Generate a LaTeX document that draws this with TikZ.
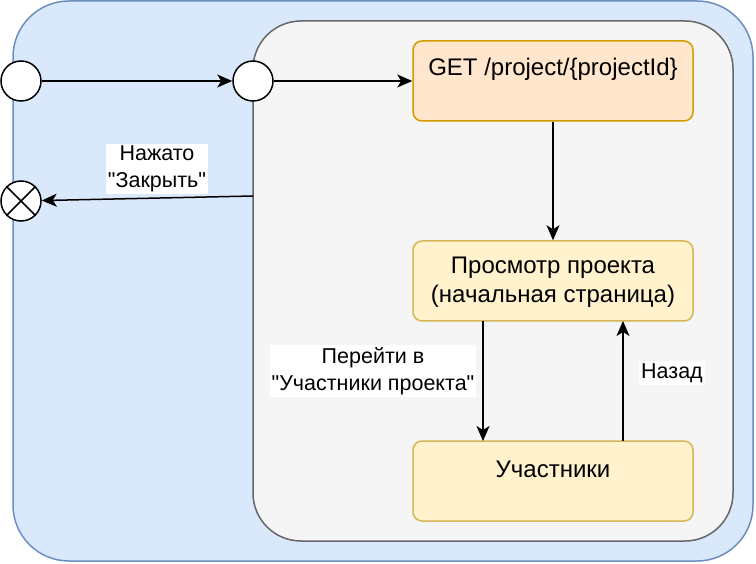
\documentclass[tikz,border=0pt]{standalone}
\usepackage{fontspec}
\setmainfont{Liberation Sans}[Ligatures=TeXOff]
\usetikzlibrary{arrows.meta}
\definecolor{outerfill}{HTML}{DAE8FC}
\definecolor{outerdraw}{HTML}{6C8EBF}
\definecolor{innerfill}{HTML}{F5F5F5}
\definecolor{innerdraw}{HTML}{666666}
\definecolor{getfill}{HTML}{FFE6CC}
\definecolor{getdraw}{HTML}{D79B00}
\definecolor{boxfill}{HTML}{FFF2CC}
\definecolor{boxdraw}{HTML}{D6B656}
\begin{document}
\begin{tikzpicture}[x=1pt,y=-1pt,
 container/.style={rectangle, draw, line width=1.5pt, inner sep=0pt},
 statebox/.style={rectangle, rounded corners=9pt, draw=boxdraw, fill=boxfill, line width=1.5pt, minimum width=280pt, minimum height=80pt, inner sep=0pt},
 pt/.style={circle, draw=black, fill=white, line width=1.5pt, minimum size=40pt, inner sep=0pt},
 txt/.style={font=\fontsize{24}{29}\selectfont, align=center, inner sep=0pt},
 lbl/.style={font=\fontsize{21.5}{27}\selectfont, align=center, fill=white, inner sep=2pt},
 arr/.style={line width=1.5pt, -{Stealth[length=15pt,width=13pt,inset=4pt]}}
]
\useasboundingbox (0,0) rectangle (756,564);
\node[container, draw=outerdraw, fill=outerfill, rounded corners=56pt, minimum width=740pt, minimum height=560pt] (outer) at (383,281) {};
\node[container, draw=innerdraw, fill=innerfill, rounded corners=48pt, minimum width=480pt, minimum height=520pt] (inner) at (493,281) {};

\node[pt] (start) at (21,81) {};
\node[pt] (entry) at (253,81) {};
\node[pt] (final) at (21,201) {};
\draw[line width=1.5pt] (final.north west) -- (final.south east);
\draw[line width=1.5pt] (final.north east) -- (final.south west);

\node[statebox, draw=getdraw, fill=getfill] (get) at (553,81) {};
\node[txt] (gett) at (553,69) {GET /project/\{projectId\}};
\node[statebox] (view) at (553,281) {};
\node[txt] (viewt) at (553,282) {Просмотр проекта\\(начальная страница)};
\node[statebox] (memb) at (553,481) {};
\node[txt] (membt) at (553,469) {Участники};

\coordinate (innerexit) at (253,196);
\coordinate (v1) at (483,321);
\coordinate (m1) at (483,441);
\coordinate (m2) at (623,441);
\coordinate (v2) at (623,321);

\draw[arr] (start) -- (entry);
\draw[arr] (entry) -- (get);
\draw[arr] (get) -- (view);
\draw[arr] (v1) -- (m1);
\draw[arr] (m2) -- (v2);
\draw[arr] (innerexit) -- (final);

\node[lbl] (l1) at (157,169) {Нажато\\"Закрыть"};
\node[lbl] (l2) at (373,371) {Перейти в\\"Участники проекта"};
\node[lbl] (l3) at (672,373) {Назад};
\end{tikzpicture}
\end{document}
